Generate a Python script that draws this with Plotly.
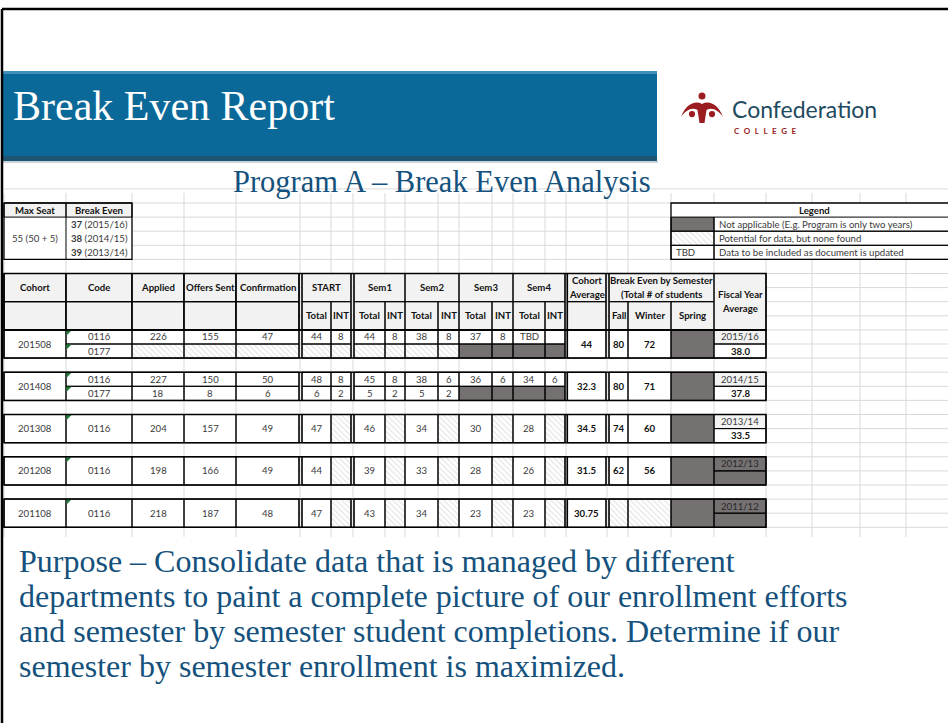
import plotly.graph_objects as go

# ---------------- data ----------------
cohorts = ["201508", "201408", "201308", "201208", "201108"]
codes = [["0116", "0177"], ["0116", "0177"], ["0116"], ["0116"], ["0116"]]
# None = "potential for data, but none found" (hatched), "NA" = not applicable (dark)
applied = [[226, None], [227, 18], [204], [198], [218]]
offers_sent = [[155, None], [150, 8], [157], [166], [187]]
confirmation = [[47, None], [50, 6], [49], [49], [48]]
start_total = [[44, None], [48, 6], [47], [44], [47]]
start_int = [[8, None], [8, 2], [None], [None], [None]]
sem1_total = [[44, None], [45, 5], [46], [39], [43]]
sem1_int = [[8, None], [8, 2], [None], [None], [None]]
sem2_total = [[38, None], [38, 5], [34], [33], [34]]
sem2_int = [[8, None], [6, 2], [None], [None], [None]]
sem3_total = [[37, "NA"], [36, "NA"], [30], [28], [23]]
sem3_int = [[8, "NA"], [6, "NA"], [None], [None], [None]]
sem4_total = [["TBD", "NA"], [34, "NA"], [28], [26], [23]]
sem4_int = [["", "NA"], [6, "NA"], [None], [None], [None]]
cohort_average = [44, 32.3, 34.5, 31.5, 30.75]
break_even_fall = [80, 80, 74, 62, None]
break_even_winter = [72, 71, 60, 56, None]
break_even_spring = ["NA", "NA", "NA", "NA", "NA"]
fiscal_years = ["2015/16", "2014/15", "2013/14", "2012/13", "2011/12"]
fiscal_year_average = [38.0, 37.8, 33.5, "NA", "NA"]

max_seat = "55 (50 + 5)"
break_even_targets = [37, 38, 39]
break_even_years = ["2015/16", "2014/15", "2013/14"]

legend_labels = ["Not applicable (E.g. Program is only two years)",
                 "Potential for data, but none found",
                 "Data to be included as document is updated"]

title_text = "Break Even Report"
subtitle_text = "Program A – Break Even Analysis"
purpose_lines = [
    "Purpose – Consolidate data that is managed by different",
    "departments to paint a complete picture of our enrollment efforts",
    "and semester by semester student completions. Determine if our",
    "semester by semester enrollment is maximized.",
]

# ---------------- style / layout constants ----------------
SERIF = "Liberation Serif, Times New Roman, serif"
CELL = "Lato, Noto Sans, sans-serif"
BLUE = "#14517c"
DARK = "#767171"
HEAD = "#f2f2f2"
GRIDC = "#d9d9d9"
TXT = "#3a3a3a"
FS = 9.6

G = 14.1
TOP = 203


def gy(k):
    return TOP + G * k


COL = {
    "cohort": (4, 66), "code": (66, 132), "applied": (132, 184), "offers": (184, 236),
    "conf": (236, 299), "st": (302, 331), "si": (331, 351), "s1t": (354, 385), "s1i": (385, 405),
    "s2t": (405, 438), "s2i": (438, 459), "s3t": (459, 492), "s3i": (492, 513),
    "s4t": (513, 545), "s4i": (545, 565), "avg": (567, 606), "fall": (609, 628),
    "winter": (628, 671), "spring": (671, 714), "fiscal": (714, 766),
}
GRID_X = [4, 66, 132, 184, 236, 300, 331, 353, 385, 405, 438, 459, 492, 513, 545, 566,
          607, 628, 671, 714, 766, 812, 860, 906]

shapes_below, shapes_above, annotations = [], [], []
hatch = []


def rect(x0, y0, x1, y1, fill=None, lw=0, lc="black", layer="below"):
    d = dict(type="rect", xref="x", yref="y", x0=x0, y0=y0, x1=x1, y1=y1, layer=layer,
             line=dict(width=lw, color=lc if lw else "rgba(0,0,0,0)"))
    if fill:
        d["fillcolor"] = fill
    (shapes_below if layer == "below" else shapes_above).append(d)


def line(x0, y0, x1, y1, lw=1, lc="black", layer="above"):
    d = dict(type="line", xref="x", yref="y", x0=x0, y0=y0, x1=x1, y1=y1, layer=layer,
             line=dict(width=lw, color=lc))
    (shapes_below if layer == "below" else shapes_above).append(d)


def text(x, y, s, size=FS, color=TXT, bold=False, xanchor="center", family=CELL):
    annotations.append(dict(x=x, y=y, xref="x", yref="y", text=f"<b>{s}</b>" if bold else s,
                            showarrow=False, xanchor=xanchor, yanchor="middle",
                            font=dict(size=size, color=color, family=family)))


def cell(key, y0, y1, val, bold=False, bg="white", border=True):
    x0, x1 = COL[key]
    if val is None:
        hatch.append((x0, x1, y0, y1))
    elif val == "NA":
        rect(x0, y0, x1, y1, fill=DARK)
    else:
        rect(x0, y0, x1, y1, fill=bg)
        if val != "":
            text((x0 + x1) / 2, (y0 + y1) / 2, str(val), bold=bold,
                 color="#111" if bold else TXT)
    if border:
        rect(x0, y0, x1, y1, lw=1, layer="above")


def fmt(v):
    return f"{v:g}" if isinstance(v, (int, float)) else v


# ---------------- page frame ----------------
line(2, 9, 948, 9, lw=2.5)
line(2, 9, 2, 723, lw=2.5)

# ---------------- title bar ----------------
rect(2, 71, 657, 161, fill="#0a6998")
rect(2, 71, 657, 74, fill="#3f8fba")
rect(2, 156, 657, 161, fill="#1d5572")
rect(3, 161, 658, 163, fill="#c9d3d9")
text(11, 106, title_text, size=42, color="white", xanchor="left", family=SERIF)

# ---------------- logo ----------------
RED = "#9b1d22"
shapes_above.append(dict(type="circle", xref="x", yref="y", x0=698.5, x1=705.5, y0=92.5, y1=99.5,
                         fillcolor=RED, line=dict(width=0), layer="above"))
shapes_above.append(dict(type="path", xref="x", yref="y", layer="above", fillcolor=RED,
                         line=dict(width=0),
                         path="M 681,117 C 686,104 695,100 702,104 C 709,100 718,104 723,117 "
                              "C 718,110 712,107 706.5,110 L 704.5,123 L 699.5,123 L 697.5,110 "
                              "C 692,107 686,110 681,117 Z"))
for cx in (692, 712):
    shapes_above.append(dict(type="circle", xref="x", yref="y", x0=cx - 3.6, x1=cx + 3.6,
                             y0=110.5, y1=117.7, fillcolor="white", line=dict(width=0),
                             layer="above"))
    shapes_above.append(dict(type="circle", xref="x", yref="y", x0=cx - 3.1, x1=cx + 3.1,
                             y0=111, y1=117.2, fillcolor=RED, line=dict(width=0), layer="above"))
text(730, 109, "Confederation", size=23, color="#1f4b5f", xanchor="left", family=CELL)
text(732, 131, "\u2002\u200a".join("COLLEGE"), size=8, color=RED, bold=True, xanchor="left",
     family=CELL)

# ---------------- subtitle ----------------
text(442, 182, subtitle_text, size=30.5, color=BLUE, family=SERIF)

# ---------------- spreadsheet grid ----------------
GRID_TOP, GRID_BOT = gy(-1), 537
for gx in GRID_X:
    line(gx, GRID_TOP + 4, gx, GRID_BOT, lw=1, lc=GRIDC, layer="below")
for k in range(-1, 24):
    line(4, gy(k), 948, gy(k), lw=1, lc=GRIDC, layer="below")

# ---------------- max seat / break-even box ----------------
rect(4, gy(0), 66, gy(1), fill=HEAD)
rect(66, gy(0), 132, gy(1), fill=HEAD)
rect(4, gy(1), 132, gy(4), fill="white")
text(35, (gy(0) + gy(1)) / 2, "Max Seat", bold=True, color="#111")
text(99, (gy(0) + gy(1)) / 2, "Break Even", bold=True, color="#111")
text(35, (gy(1) + gy(4)) / 2, max_seat)
for i, (t, yr) in enumerate(zip(break_even_targets, break_even_years)):
    text(69, (gy(1 + i) + gy(2 + i)) / 2, f"<b>{t}</b> ({yr})", xanchor="left")
rect(4, gy(0), 66, gy(1), lw=1, layer="above")
rect(66, gy(0), 132, gy(1), lw=1, layer="above")
rect(4, gy(0), 132, gy(4), lw=1.3, layer="above")
line(66, gy(1), 66, gy(4), lw=1)

# ---------------- legend box ----------------
LX0, LX1, LXS = 671, 965, 714
rect(LX0, gy(0), LX1, gy(4), fill="white")
text((LX0 + 958) / 2, (gy(0) + gy(1)) / 2, "Legend", bold=True, color="#111")
rect(LX0, gy(1), LXS, gy(2), fill=DARK)
hatch.append((LX0, LXS, gy(2), gy(3)))
text(674, (gy(3) + gy(4)) / 2, "TBD", xanchor="left")
for i, lab in enumerate(legend_labels):
    text(717, (gy(1 + i) + gy(2 + i)) / 2, lab, xanchor="left")
    rect(LX0, gy(1 + i), LXS, gy(2 + i), lw=1, layer="above")
    rect(LXS, gy(1 + i), LX1, gy(2 + i), lw=1, layer="above")
rect(LX0, gy(0), LX1, gy(4), lw=1.3, layer="above")

# ---------------- table header ----------------
H1a, H1b, H2b = gy(5), gy(7), gy(9)
r1m, r2m = (H1a + H1b) / 2, (H1b + H2b) / 2
simple_heads = [("cohort", "Cohort"), ("code", "Code"), ("applied", "Applied"),
                ("offers", "Offers Sent"), ("conf", "Confirmation")]
for key, lab in simple_heads:
    x0, x1 = COL[key]
    rect(x0, H1a, x1, H1b, fill=HEAD, lw=1, layer="below")
    rect(x0, H1b, x1, H2b, fill=HEAD, lw=1, layer="below")
    text((x0 + x1) / 2, r1m, lab, bold=True, color="#111")
    rect(x0, H1a, x1, H1b, lw=1, layer="above")
    rect(x0, H1b, x1, H2b, lw=1, layer="above")
for tk, ik, lab in [("st", "si", "START"), ("s1t", "s1i", "Sem1"), ("s2t", "s2i", "Sem2"),
                    ("s3t", "s3i", "Sem3"), ("s4t", "s4i", "Sem4")]:
    x0, x1 = COL[tk][0], COL[ik][1]
    rect(x0, H1a, x1, H2b, fill=HEAD)
    text((x0 + x1) / 2, r1m, lab, bold=True, color="#111")
    rect(x0, H1a, x1, H1b, lw=1, layer="above")
    for k2, lab2 in [(tk, "Total"), (ik, "INT")]:
        a, b = COL[k2]
        text((a + b) / 2, r2m, lab2, bold=True, color="#111")
        rect(a, H1b, b, H2b, lw=1, layer="above")
# cohort average
x0, x1 = COL["avg"]
rect(x0, H1a, x1, H2b, fill=HEAD)
text((x0 + x1) / 2, r1m - 7, "Cohort", bold=True, color="#111")
text((x0 + x1) / 2, r1m + 7, "Average", bold=True, color="#111")
rect(x0, H1a, x1, H1b, lw=1, layer="above")
rect(x0, H1b, x1, H2b, lw=1, layer="above")
# break even by semester
x0, x1 = COL["fall"][0], COL["spring"][1]
rect(x0, H1a, x1, H2b, fill=HEAD)
text((x0 + x1) / 2, r1m - 7, "Break Even by Semester", bold=True, color="#111")
text((x0 + x1) / 2, r1m + 7, "(Total # of students", bold=True, color="#111")
rect(x0, H1a, x1, H1b, lw=1, layer="above")
for k2, lab2 in [("fall", "Fall"), ("winter", "Winter"), ("spring", "Spring")]:
    a, b = COL[k2]
    text((a + b) / 2, r2m, lab2, bold=True, color="#111")
    rect(a, H1b, b, H2b, lw=1, layer="above")
# fiscal year average
x0, x1 = COL["fiscal"]
rect(x0, H1a, x1, H2b, fill=HEAD)
text((x0 + x1) / 2, (H1a + H2b) / 2 - 7, "Fiscal Year", bold=True, color="#111")
text((x0 + x1) / 2, (H1a + H2b) / 2 + 7, "Average", bold=True, color="#111")
rect(x0, H1a, x1, H2b, lw=1, layer="above")


# double separators
def double_sep(xa, xb, y0, y1):
    line(xa, y0, xa, y1, lw=1.2)
    line(xb, y0, xb, y1, lw=1.2)


SEPS = [(299, 302), (351, 354), (565, 567.5), (606, 609)]
for xa, xb in SEPS:
    double_sep(xa, xb, H1a, H2b)
rect(4, H1a, 766, H2b, lw=1.5, layer="above")

# ---------------- data rows ----------------
metric_cols = [("applied", applied), ("offers", offers_sent), ("conf", confirmation),
               ("st", start_total), ("si", start_int), ("s1t", sem1_total), ("s1i", sem1_int),
               ("s2t", sem2_total), ("s2i", sem2_int), ("s3t", sem3_total), ("s3i", sem3_int),
               ("s4t", sem4_total), ("s4i", sem4_int)]

for ci, coh in enumerate(cohorts):
    k0 = 9 + 3 * ci
    y0, y1 = gy(k0), gy(k0 + 2)
    n = len(codes[ci])
    sub_h = (y1 - y0) / n
    cell("cohort", y0, y1, coh)
    for si_, code in enumerate(codes[ci]):
        sy0, sy1 = y0 + si_ * sub_h, y0 + (si_ + 1) * sub_h
        cell("code", sy0, sy1, code)
        shapes_above.append(dict(type="path", xref="x", yref="y", layer="above",
                                 fillcolor="#1d7a36", line=dict(width=0),
                                 path=f"M 66.5,{sy0 + 0.5} L 71.5,{sy0 + 0.5} L 66.5,{sy0 + 5.5} Z"))
        for key, arr in metric_cols:
            cell(key, sy0, sy1, fmt(arr[ci][si_]))
    cell("avg", y0, y1, fmt(cohort_average[ci]), bold=True)
    cell("fall", y0, y1, fmt(break_even_fall[ci]), bold=True)
    cell("winter", y0, y1, fmt(break_even_winter[ci]), bold=True)
    cell("spring", y0, y1, break_even_spring[ci])
    # fiscal year: year label on top half, average on bottom half
    fx0, fx1 = COL["fiscal"]
    ym = (y0 + y1) / 2
    avg = fiscal_year_average[ci]
    if avg == "NA":
        rect(fx0, y0, fx1, y1, fill=DARK)
        text((fx0 + fx1) / 2, (y0 + ym) / 2, fiscal_years[ci], color="#2a2a2a")
    else:
        rect(fx0, y0, fx1, ym, fill=HEAD)
        rect(fx0, ym, fx1, y1, fill="white")
        text((fx0 + fx1) / 2, (y0 + ym) / 2, fiscal_years[ci])
        text((fx0 + fx1) / 2, (ym + y1) / 2, f"{avg:.1f}", bold=True, color="#111")
    rect(fx0, y0, fx1, ym, lw=1, layer="above")
    rect(fx0, ym, fx1, y1, lw=1, layer="above")
    for xa, xb in SEPS:
        double_sep(xa, xb, y0, y1)
    rect(4, y0, 766, y1, lw=1.5, layer="above")

# ---------------- purpose text ----------------
for i, ln in enumerate(purpose_lines):
    text(17, 561 + 35 * i, ln, size=32, color=BLUE, xanchor="left", family=SERIF)

# ---------------- figure ----------------
fig = go.Figure()
fig.add_trace(go.Bar(
    x=[(a + b) / 2 for a, b, _, _ in hatch],
    width=[b - a for a, b, _, _ in hatch],
    base=[c for _, _, c, _ in hatch],
    y=[d - c for _, _, c, d in hatch],
    marker=dict(color="white", line=dict(width=0),
                pattern=dict(shape="\\", fgcolor="#bdbdbd", size=4, solidity=0.25,
                             fillmode="overlay")),
    hoverinfo="skip", showlegend=False,
))
fig.update_layout(
    width=948, height=723, margin=dict(l=0, r=0, t=0, b=0),
    paper_bgcolor="white", plot_bgcolor="white",
    xaxis=dict(range=[0, 948], visible=False, fixedrange=True),
    yaxis=dict(range=[723, 0], visible=False, fixedrange=True),
    barmode="overlay", bargap=0, showlegend=False,
    shapes=shapes_below + shapes_above, annotations=annotations,
)
fig.write_html("out.html", config={"displayModeBar": False},
               post_script="document.body.style.margin='0px';document.body.style.overflow='hidden';")
